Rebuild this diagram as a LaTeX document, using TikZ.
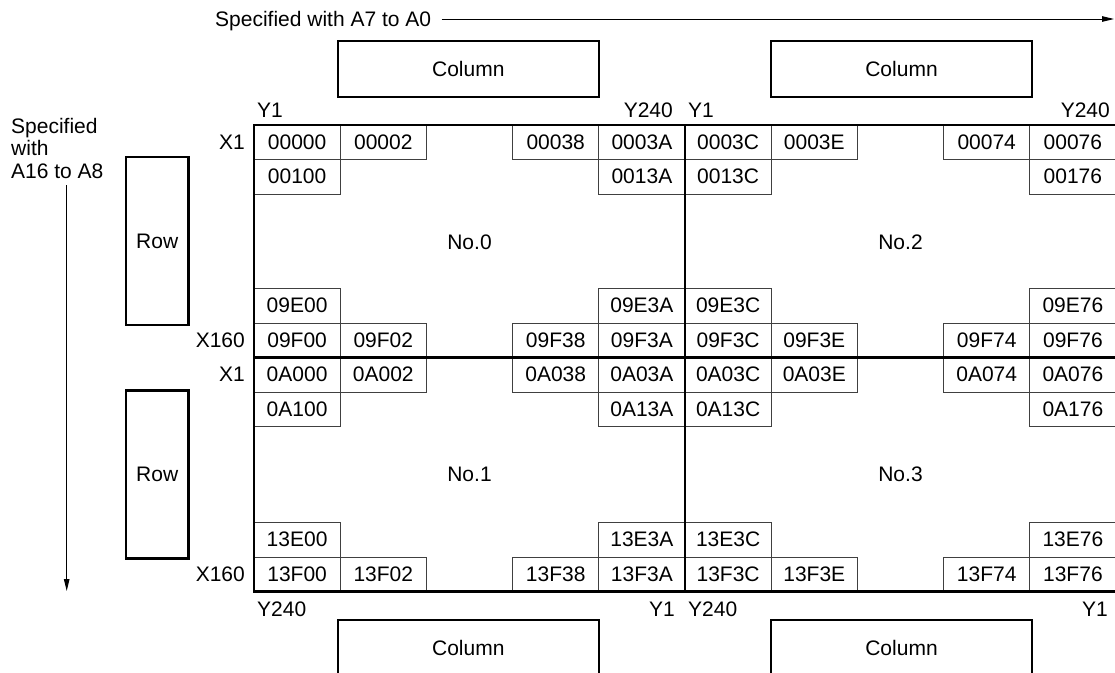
\documentclass[tikz,border=0pt]{standalone}
\usepackage{fontspec}
\setmainfont{Liberation Sans}
\usetikzlibrary{arrows.meta}
\begin{document}
\begin{tikzpicture}[x=1pt,y=-1pt,
  every node/.style={font=\fontsize{21}{22.5}\selectfont, inner sep=0pt},
  cell/.style={draw=black!75, line width=0.9pt, minimum width=86.2pt, minimum height=34.5pt},
  heavyline/.style={line width=2.5pt, line cap=rect},
  bigbox/.style={draw, line width=2.5pt},
  colbox/.style={bigbox, minimum width=261pt, minimum height=56pt},
  rowbox/.style={bigbox, minimum width=62.3pt, minimum height=168pt},
  pointer/.style={line width=0.9pt, -{Triangle[length=12pt,width=5.5pt]}}
]
\useasboundingbox (0,0) rectangle (1115,672);
\clip (0,0) rectangle (1115,672);

% cells
\foreach \c/\t in {0/00000,1/00002,3/00038,4/0003A,5/0003C,6/0003E,8/00074,9/00076}
  \node[cell] (a\c) at ({254+86.2*(\c+0.5)},142.25) {\t};
\foreach \c/\t in {0/00100,4/0013A,5/0013C,9/00176}
  \node[cell] (b\c) at ({254+86.2*(\c+0.5)},176.75) {\t};
\foreach \c/\t in {0/09E00,4/09E3A,5/09E3C,9/09E76}
  \node[cell] (c\c) at ({254+86.2*(\c+0.5)},305.75) {\t};
\foreach \c/\t in {0/09F00,1/09F02,3/09F38,4/09F3A,5/09F3C,6/09F3E,8/09F74,9/09F76}
  \node[cell] (d\c) at ({254+86.2*(\c+0.5)},340.25) {\t};
\foreach \c/\t in {0/0A000,1/0A002,3/0A038,4/0A03A,5/0A03C,6/0A03E,8/0A074,9/0A076}
  \node[cell] (e\c) at ({254+86.2*(\c+0.5)},374.75) {\t};
\foreach \c/\t in {0/0A100,4/0A13A,5/0A13C,9/0A176}
  \node[cell] (f\c) at ({254+86.2*(\c+0.5)},409.25) {\t};
\foreach \c/\t in {0/13E00,4/13E3A,5/13E3C,9/13E76}
  \node[cell] (g\c) at ({254+86.2*(\c+0.5)},539.75) {\t};
\foreach \c/\t in {0/13F00,1/13F02,3/13F38,4/13F3A,5/13F3C,6/13F3E,8/13F74,9/13F76}
  \node[cell] (h\c) at ({254+86.2*(\c+0.5)},574.25) {\t};

% heavy frame
\coordinate (gtl) at (254,125);
\coordinate (gbr) at (1116.5,591.5);
\coordinate (vt) at (685,125);
\coordinate (vb) at (685,591.5);
\coordinate (hl) at (254,357.5);
\coordinate (hr) at (1116.5,357.5);
\draw[heavyline] (gtl) rectangle (gbr);
\draw[heavyline] (vt) -- (vb);
\draw[heavyline] (hl) -- (hr);

% quadrant labels
\node (q0) at (469.5,242) {No.0};
\node (q2) at (900.5,242) {No.2};
\node (q1) at (469.5,474.5) {No.1};
\node (q3) at (900.5,474.5) {No.3};

% Y labels
\node[anchor=base west] (yt1) at (257,117) {Y1};
\node[anchor=base east] (yt2) at (673,117) {Y240};
\node[anchor=base west] (yt3) at (688,117) {Y1};
\node[anchor=base east] (yt4) at (1110,117) {Y240};
\node[anchor=base west] (yb1) at (257,616) {Y240};
\node[anchor=base east] (yb2) at (675,616) {Y1};
\node[anchor=base west] (yb3) at (688,616) {Y240};
\node[anchor=base east] (yb4) at (1108,616) {Y1};

% X labels
\node[anchor=east] (x1) at (245,142.25) {X1};
\node[anchor=east] (x2) at (245,340.25) {X160};
\node[anchor=east] (x3) at (245,374.75) {X1};
\node[anchor=east] (x4) at (245,574.25) {X160};

% column and row boxes
\node[colbox] (colTL) at (468.3,69) {Column};
\node[colbox] (colTR) at (901.5,69) {Column};
\node[colbox] (colBL) at (468.3,648) {Column};
\node[colbox] (colBR) at (901.5,648) {Column};
\node[rowbox] (rowU) at (157.2,241) {Row};
\node[rowbox] (rowL) at (157.2,474.5) {Row};

% address texts and arrows
\node[anchor=base west] (spec) at (215,26) {Specified with A7 to A0};
\coordinate (ts) at (441.7,19);
\coordinate (te) at (1114,19);
\draw[pointer] (ts) -- (te);

\node[anchor=base west, align=left] (specr) at (11,178) {Specified\\with\\A16 to A8};
\coordinate (ls) at (66.7,185);
\coordinate (le) at (66.7,591);
\draw[pointer] (ls) -- (le);
\end{tikzpicture}
\end{document}
